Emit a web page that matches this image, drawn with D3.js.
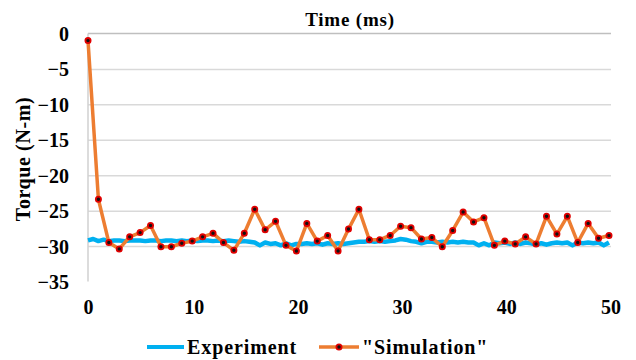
<!DOCTYPE html>
<html>
<head>
	<meta charset="utf-8">
	<title>Torque vs Time</title>
	<script src="https://d3js.org/d3.v7.min.js"></script>
	<style>
		body { margin: 0; background: #fff; }
		svg text { font-family: 'Liberation Serif', 'DejaVu Serif', serif !important; font-weight: bold; fill: #000; }
		.axis .domain { display: none; }
		.grid line { stroke: #d9d9d9; stroke-width: 1.5; }
	</style>
</head>
<body>
	<svg id="chart" width="636" height="360"></svg>
<script>
	// simulation: one point per ms
	var simTime = [0, 1, 2, 3, 4, 5, 6, 7, 8, 9, 10, 11, 12, 13, 14, 15, 16, 17, 18, 19, 20,
		21, 22, 23, 24, 25, 26, 27, 28, 29, 30, 31, 32, 33, 34, 35, 36, 37, 38, 39, 40,
		41, 42, 43, 44, 45, 46, 47, 48, 49, 50]
	var simTorque = [-1.0, -23.4, -29.5, -30.4, -28.7, -28.1, -27.1, -30.1, -30.1, -29.6, -29.3,
		-28.7, -28.2, -29.5, -30.6, -28.2, -24.8, -27.7, -26.5, -29.9, -30.7,
		-26.8, -29.3, -28.5, -30.7, -27.6, -24.8, -29.1, -29.1, -28.5, -27.2,
		-27.4, -29.0, -28.8, -30.1, -27.8, -25.2, -26.6, -26.0, -29.9, -29.3,
		-29.7, -28.7, -29.7, -25.8, -28.3, -25.8, -29.5, -26.8, -28.9, -28.5]

	// experiment: sampled every 0.5 ms
	var expTime = [0, 0.5, 1, 1.5, 2, 2.5, 3, 3.5, 4, 4.5, 5, 5.5, 6, 6.5, 7, 7.5, 8, 8.5, 9, 9.5,
		10, 10.5, 11, 11.5, 12, 12.5, 13, 13.5, 14, 14.5, 15, 15.5, 16, 16.5, 17, 17.5, 18, 18.5, 19, 19.5,
		20, 20.5, 21, 21.5, 22, 22.5, 23, 23.5, 24, 24.5, 25, 25.5, 26, 26.5, 27, 27.5, 28, 28.5, 29, 29.5,
		30, 30.5, 31, 31.5, 32, 32.5, 33, 33.5, 34, 34.5, 35, 35.5, 36, 36.5, 37, 37.5, 38, 38.5, 39, 39.5,
		40, 40.5, 41, 41.5, 42, 42.5, 43, 43.5, 44, 44.5, 45, 45.5, 46, 46.5, 47, 47.5, 48, 48.5, 49, 49.5, 50]
	var expTorque = [-29.2, -29.0, -29.3, -29.1, -29.3, -29.2, -29.2, -29.3, -29.2, -29.2,
		-29.2, -29.3, -29.2, -29.2, -29.3, -29.2, -29.2, -29.3, -29.2, -29.3,
		-29.2, -29.3, -29.2, -29.2, -29.3, -29.2, -29.3, -29.2, -29.3, -29.4,
		-29.3, -29.4, -29.5, -29.9, -29.5, -29.7, -29.6, -29.9, -29.6, -29.9,
		-29.7, -29.7, -29.6, -29.7, -29.6, -29.8, -29.6, -29.7, -29.6, -29.7,
		-29.6, -29.5, -29.4, -29.4, -29.3, -29.4, -29.3, -29.4, -29.3, -29.2,
		-29.0, -29.1, -29.3, -29.4, -29.6, -29.4, -29.4, -29.5, -29.4, -29.5,
		-29.4, -29.5, -29.4, -29.5, -29.5, -29.9, -29.6, -29.9, -29.5, -29.6,
		-29.5, -29.7, -29.5, -29.7, -29.5, -29.6, -29.8, -29.6, -29.8, -29.6,
		-29.5, -29.6, -29.5, -29.9, -29.5, -29.6, -29.5, -29.6, -29.5, -29.9, -29.5]

	var xTicks = [0, 10, 20, 30, 40, 50]
	var yTicks = [0, -5, -10, -15, -20, -25, -30, -35]
	var gridTicks = [-5, -10, -15, -20, -25, -30]

	var fontFamily = "'Liberation Serif', 'DejaVu Serif', serif"

	var svg = d3.select('#chart')
	var plot = { left: 88, right: 609, top: 33.5, bottom: 281.5 }

	var x = d3.scaleLinear().domain([0, 50]).range([plot.left, plot.right])
	var y = d3.scaleLinear().domain([0, -35]).range([plot.top, plot.bottom])

	// gridlines
	svg.append("g")
		.attr("class", "grid axis")
		.attr("transform", "translate(" + plot.left + ",0)")
		.call(d3.axisLeft(y).tickValues(gridTicks).tickSize(-(plot.right + 2 - plot.left)).tickFormat(""))

	// x axis sits at y = 0 (top), y axis line on the left
	svg.append("line")
		.attr("x1", plot.left).attr("x2", plot.right + 2)
		.attr("y1", y(0)).attr("y2", y(0))
		.attr("stroke", "#bfbfbf").attr("stroke-width", 1.5)
	svg.append("line")
		.attr("x1", plot.left).attr("x2", plot.left)
		.attr("y1", y(0)).attr("y2", y(-35))
		.attr("stroke", "#d0d0d0").attr("stroke-width", 1.5)

	// tick labels
	var yAxis = svg.append("g")
		.attr("class", "axis")
		.attr("transform", "translate(" + (plot.left - 19) + ",0)")
		.call(d3.axisLeft(y).tickValues(yTicks).tickSize(0).tickPadding(0))
	yAxis.attr("font-family", fontFamily)
	yAxis.selectAll("text").style("font-size", "20px").attr("dy", "0.35em")

	var xAxis = svg.append("g")
		.attr("class", "axis")
		.attr("transform", "translate(0,300)")
		.call(d3.axisBottom(x).tickValues(xTicks).tickSize(0).tickPadding(0))
	xAxis.attr("font-family", fontFamily)
	xAxis.selectAll("text").style("font-size", "20px").attr("dy", "0.7em")
		.attr("dx", function (d) { return d == 0 ? 0 : 1.5 })

	// titles
	svg.append("text")
		.attr("x", 350).attr("y", 26)
		.attr("text-anchor", "middle")
		.style("font-size", "19px")
		.style("letter-spacing", "0.8px")
		.text("Time (ms)")

	svg.append("text")
		.attr("transform", "translate(30,159) rotate(-90)")
		.attr("text-anchor", "middle")
		.style("font-size", "20px")
		.style("letter-spacing", "0.6px")
		.text("Torque (N-m)")

	// series
	var line = d3.line()
		.x(function (d) { return x(d[0]) })
		.y(function (d) { return y(d[1]) })

	svg.append("path")
		.datum(d3.zip(expTime, expTorque))
		.attr("fill", "none")
		.attr("stroke", "#00b0f0")
		.attr("stroke-width", 4.5)
		.attr("stroke-linejoin", "round")
		.attr("d", line)

	var simData = d3.zip(simTime, simTorque)
	svg.append("path")
		.datum(simData)
		.attr("fill", "none")
		.attr("stroke", "#ed7d31")
		.attr("stroke-width", 3.5)
		.attr("stroke-linejoin", "round")
		.attr("d", line)

	svg.append("g")
		.selectAll("circle")
		.data(simData)
		.enter().append("circle")
		.attr("cx", function (d) { return x(d[0]) })
		.attr("cy", function (d) { return y(d[1]) })
		.attr("r", 2.6)
		.attr("fill", "#111")
		.attr("stroke", "#e00000")
		.attr("stroke-width", 1.8)

	// legend
	var lg = svg.append("g").attr("transform", "translate(0,347)")
	lg.append("line")
		.attr("x1", 147).attr("x2", 184)
		.attr("stroke", "#00b0f0").attr("stroke-width", 4)
	lg.append("text")
		.attr("x", 187).attr("y", 7)
		.style("font-size", "20px")
		.style("letter-spacing", "0.9px")
		.text("Experiment")
	lg.append("line")
		.attr("x1", 319).attr("x2", 359)
		.attr("stroke", "#ed7d31").attr("stroke-width", 3.5)
	lg.append("circle")
		.attr("cx", 339).attr("r", 2.6)
		.attr("fill", "#111").attr("stroke", "#e00000").attr("stroke-width", 1.8)
	lg.append("text")
		.attr("x", 362).attr("y", 7)
		.style("font-size", "20px")
		.style("letter-spacing", "0.9px")
		.text("\"Simulation\"")
</script>
</body>
</html>
